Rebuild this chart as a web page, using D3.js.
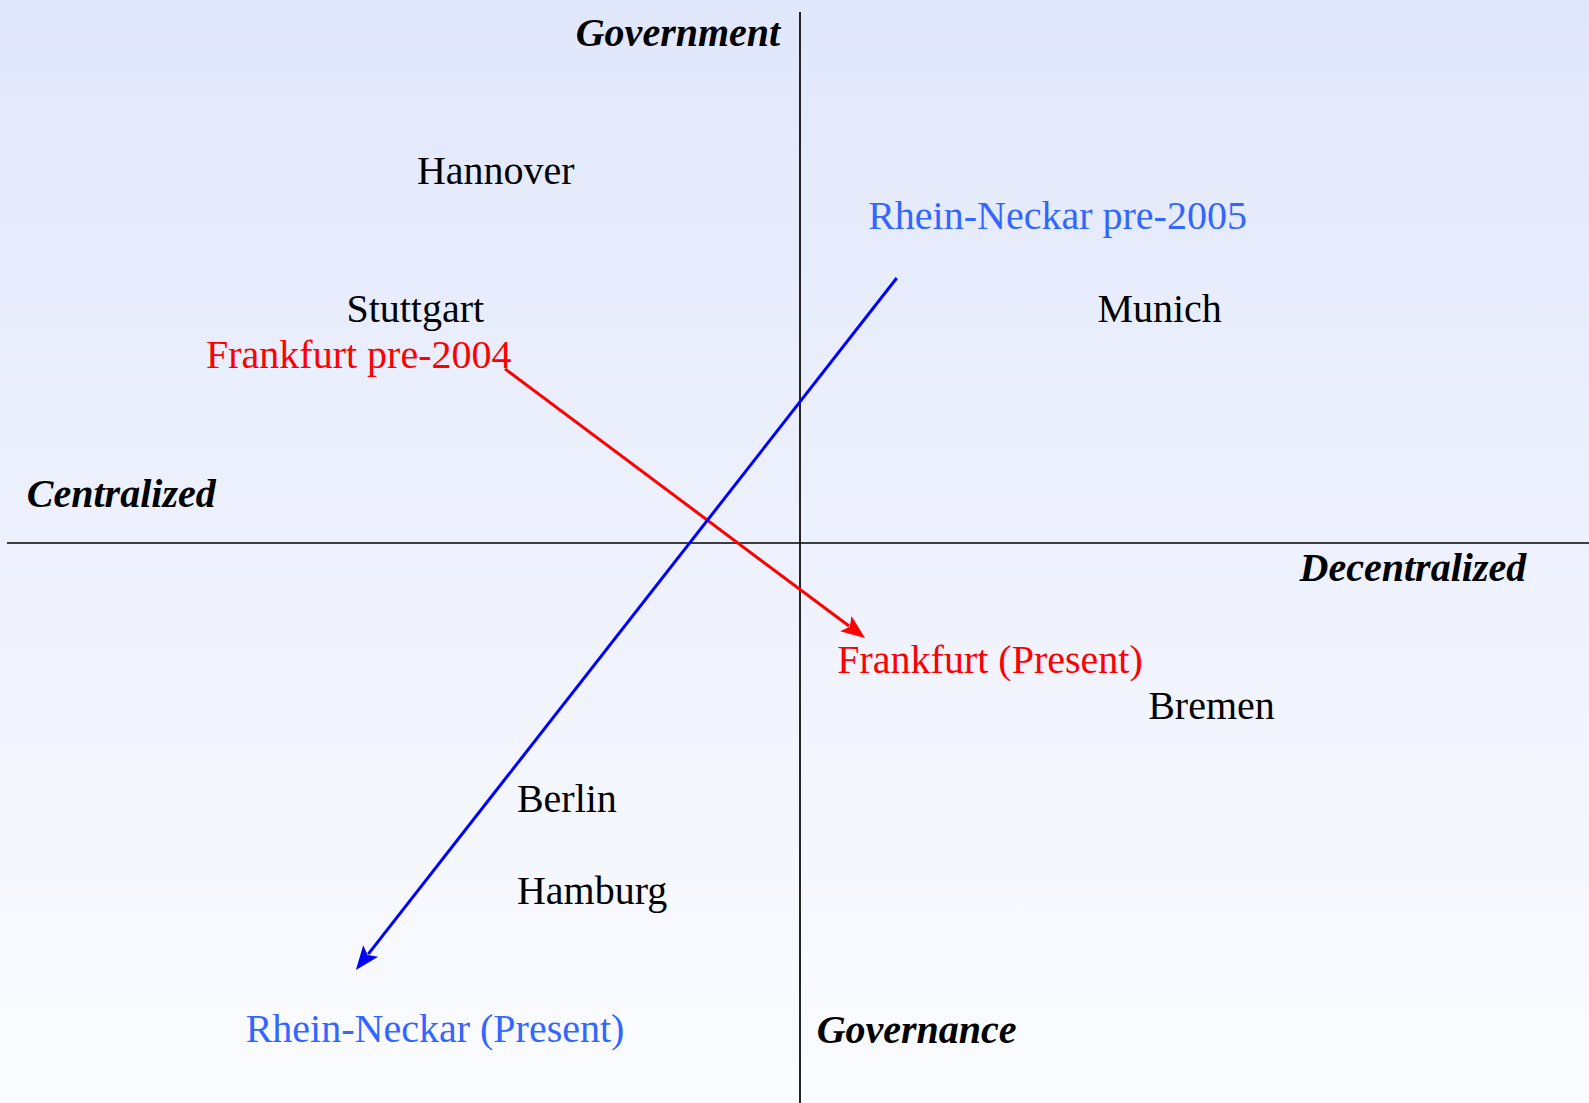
<!DOCTYPE html>
<html>
<head>
<meta charset="utf-8">
<script src="https://cdn.jsdelivr.net/npm/d3@7"></script>
<style>
  html, body { margin: 0; padding: 0; background: #fff; }
  svg { display: block; }
</style>
</head>
<body>
<svg id="chart" width="1589" height="1103"></svg>
<script>
// Map positions in abstract units: x = centralized (-) ... decentralized (+), y = governance (-) ... government (+)
const cities = ["Hannover", "Stuttgart", "Munich", "Bremen", "Berlin", "Hamburg"];
const cityX = [-4.83, -5.72, 3.75, 4.39, -3.57, -3.57];
const cityY = [6.77, 4.16, 4.16, -3.31, -5.07, -6.80];

const regionLabels = ["Frankfurt pre-2004", "Frankfurt (Present)", "Rhein-Neckar pre-2005", "Rhein-Neckar (Present)"];
const regionX = [-7.49, 0.47, 0.86, -6.99];
const regionY = [3.29, -2.45, 5.92, -9.40];
const regionGroup = ["Frankfurt", "Frankfurt", "Rhein-Neckar", "Rhein-Neckar"];

const arrowNames = ["Frankfurt", "Rhein-Neckar"];
const arrowFromX = [-3.72, 1.22];
const arrowFromY = [3.28, 4.99];
const arrowToX = [0.82, -5.60];
const arrowToY = [-1.79, -8.04];

const axisTitles = ["Government", "Centralized", "Decentralized", "Governance"];
const axisTitleX = [-0.25, -9.75, 6.30, 0.21];
const axisTitleY = [9.36, 0.67, -0.71, -9.41];

const W = 1589, H = 1103;
const svg = d3.select("#chart");

const x = d3.scaleLinear().domain([-10, 10]).range([7, 1593]);
const y = d3.scaleLinear().domain([10, -10]).range([12, 1074]);

const colors = { "Frankfurt": "#ff0000", "Rhein-Neckar": "#0000ff" };
const labelColors = { "Frankfurt": "#ff0000", "Rhein-Neckar": "#3366ff" };

// Background gradient
const defs = svg.append("defs");
const grad = defs.append("linearGradient").attr("id", "bg").attr("x1", 0).attr("y1", 0).attr("x2", 0).attr("y2", 1);
grad.append("stop").attr("offset", "0%").attr("stop-color", "#e1e7fb");
grad.append("stop").attr("offset", "100%").attr("stop-color", "#fbfcff");
svg.append("rect").attr("width", W).attr("height", H).attr("fill", "url(#bg)");

// Axes
svg.append("line")
  .attr("x1", x(-10)).attr("x2", W)
  .attr("y1", y(0)).attr("y2", y(0))
  .attr("stroke", "#000").attr("stroke-width", 1.7);
svg.append("line")
  .attr("x1", x(0)).attr("x2", x(0))
  .attr("y1", y(10)).attr("y2", H)
  .attr("stroke", "#000").attr("stroke-width", 1.7);

const font = "'Liberation Serif', 'Times New Roman', Times, serif";
const fs = 40;

// Axis titles
svg.selectAll("text.axis-title")
  .data(axisTitles)
  .join("text")
  .attr("class", "axis-title")
  .attr("x", (d, i) => x(axisTitleX[i]))
  .attr("y", (d, i) => y(axisTitleY[i]))
  .attr("text-anchor", (d, i) => i === 0 ? "end" : "start")
  .attr("font-family", font)
  .attr("font-size", fs)
  .attr("font-weight", "bold")
  .attr("font-style", "italic")
  .attr("fill", "#000")
  .text(d => d);

// Arrows
arrowNames.forEach((name, i) => {
  const x1 = x(arrowFromX[i]), y1 = y(arrowFromY[i]);
  const x2 = x(arrowToX[i]), y2 = y(arrowToY[i]);
  const ang = Math.atan2(y2 - y1, x2 - x1);
  const len = 24, half = 9.5;
  const bx = x2 - len * Math.cos(ang), by = y2 - len * Math.sin(ang);
  const px = -Math.sin(ang) * half, py = Math.cos(ang) * half;
  svg.append("line")
    .attr("x1", x1).attr("y1", y1)
    .attr("x2", bx + 4 * Math.cos(ang)).attr("y2", by + 4 * Math.sin(ang))
    .attr("stroke", colors[name]).attr("stroke-width", 3);
  svg.append("polygon")
    .attr("points", [[x2, y2], [bx + px, by + py], [bx + 5 * Math.cos(ang), by + 5 * Math.sin(ang)], [bx - px, by - py]].map(p => p.join(",")).join(" "))
    .attr("fill", colors[name]);
});

// City labels
svg.selectAll("text.city")
  .data(cities)
  .join("text")
  .attr("class", "city")
  .attr("x", (d, i) => x(cityX[i]))
  .attr("y", (d, i) => y(cityY[i]))
  .attr("font-family", font)
  .attr("font-size", fs)
  .attr("fill", "#000")
  .text(d => d);

// Region labels
svg.selectAll("text.region")
  .data(regionLabels)
  .join("text")
  .attr("class", "region")
  .attr("x", (d, i) => x(regionX[i]))
  .attr("y", (d, i) => y(regionY[i]))
  .attr("font-family", font)
  .attr("font-size", fs)
  .attr("fill", (d, i) => labelColors[regionGroup[i]])
  .text(d => d);
</script>
</body>
</html>
